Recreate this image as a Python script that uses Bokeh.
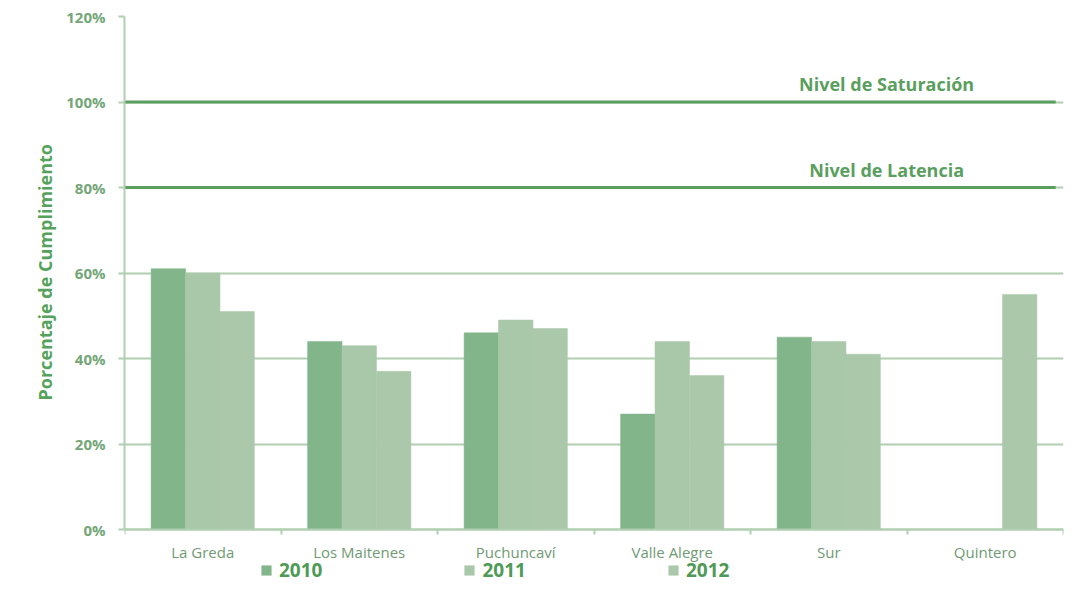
import numpy as np
from bokeh.plotting import figure
from bokeh.models import (Range1d, FixedTicker, PrintfTickFormatter, Legend, LegendItem,
                          ColumnDataSource, Title)
from bokeh.core.properties import value
from bokeh.embed import file_html
from bokeh.resources import INLINE

categories = ["La Greda", "Los Maitenes", "Puchuncaví", "Valle Alegre", "Sur", "Quintero"]
years = ["2010", "2011", "2012"]
v2010 = [61, 44, 46, 27, 45, np.nan]
v2011 = [60, 43, 49, 44, 44, np.nan]
v2012 = [51, 37, 47, 36, 41, 55]
levels = [100, 80]
level_labels = ["Nivel de Saturación", "Nivel de Latencia"]
y_ticks = [0, 20, 40, 60, 80, 100, 120]
y_title = "Porcentaje de Cumplimiento"

colors = ["#83b58b", "#a9c7a9", "#abc8ab"]
FONT = "Open Sans"
GRID = "#b0ceb0"
GREEN = "#5a9f60"

# layout (pixels)
W, H = 1070, 600
F_LEFT, F_TOP, F_RIGHT, F_BOTTOM = 124, 16, 1063, 596
ZERO_PX = 529
y_max = 120
y_min = -y_max * (F_BOTTOM - ZERO_PX) / (ZERO_PX - F_TOP)

n = len(categories)
centers = np.arange(n) + 0.5

p = figure(width=W, height=H, output_backend="svg", toolbar_location=None,
           x_range=Range1d(0, n), y_range=Range1d(y_min, y_max),
           min_border_left=F_LEFT, min_border_right=W - F_RIGHT,
           min_border_top=F_TOP, min_border_bottom=H - F_BOTTOM)
p.outline_line_color = None
p.xgrid.grid_line_color = None
p.ygrid.grid_line_color = GRID
p.ygrid.grid_line_width = 2
p.ygrid.ticker = FixedTicker(ticks=y_ticks)

bw = 0.22
renderers = []
for k, vals in enumerate([v2010, v2011, v2012]):
    src = ColumnDataSource(dict(x=centers + (k - 1) * bw, top=vals))
    r = p.vbar(x="x", top="top", width=bw, bottom=0, source=src,
               fill_color=colors[k], line_color=colors[k], line_width=0.5)
    renderers.append(r)

# threshold lines
lsrc = ColumnDataSource(dict(x0=[0] * len(levels), x1=[n - 0.05] * len(levels), y=levels,
                             lx=[4.87] * len(levels), label=level_labels))
p.segment(x0="x0", y0="y", x1="x1", y1="y", source=lsrc, line_color=GREEN, line_width=3)
p.text(x="lx", y="y", text="label", source=lsrc, text_font=value(FONT), text_font_style="bold",
       text_font_size="18px", text_color=GREEN, text_align="center", text_baseline="middle",
       y_offset=-18)

# y axis
ya = p.yaxis[0]
ya.ticker = FixedTicker(ticks=y_ticks)
ya.bounds = (0, y_max)
ya.formatter = PrintfTickFormatter(format="%d%%")
ya.axis_line_color = GRID
ya.axis_line_width = 2
ya.major_tick_line_color = GRID
ya.major_tick_line_width = 2
ya.major_tick_out = 6
ya.major_tick_in = 0
ya.minor_tick_line_color = None
ya.major_label_text_font = FONT
ya.major_label_text_font_style = "bold"
ya.major_label_text_font_size = "15px"
ya.major_label_text_color = "#74a678"
ya.major_label_standoff = 13

# y title (placed as a left-side Title so that it is centred on the 0-120 span)
p.add_layout(Title(text=y_title, align="left", offset=196, standoff=14,
                   text_font=FONT, text_font_style="bold", text_font_size="18px",
                   text_color="#55a25b"), "left")

# x axis (drawn at y = 0, legend lives below it inside the frame)
xa = p.xaxis[0]
xa.fixed_location = 0
xa.ticker = FixedTicker(ticks=list(centers), minor_ticks=list(range(n + 1)))
xa.major_label_overrides = {float(c): lab for c, lab in zip(centers, categories)}
xa.axis_line_color = GRID
xa.axis_line_width = 2
xa.major_tick_line_color = None
xa.minor_tick_line_color = GRID
xa.minor_tick_line_width = 2
xa.minor_tick_out = 5
xa.minor_tick_in = 0
xa.major_label_text_font = FONT
xa.major_label_text_font_size = "15px"
xa.major_label_text_color = "#6f9a73"
xa.major_label_standoff = 6

legend = Legend(items=[LegendItem(label=y, renderers=[r]) for y, r in zip(years, renderers)],
                orientation="horizontal", location=(136, 13),
                glyph_width=12, glyph_height=12, label_standoff=7, spacing=141,
                label_text_font=FONT, label_text_font_style="bold", label_text_font_size="19px",
                label_text_color="#4f9a56", border_line_color=None, background_fill_alpha=0,
                padding=0, margin=0)
p.add_layout(legend, "center")

open("out.html", "w").write(file_html(p, INLINE))
